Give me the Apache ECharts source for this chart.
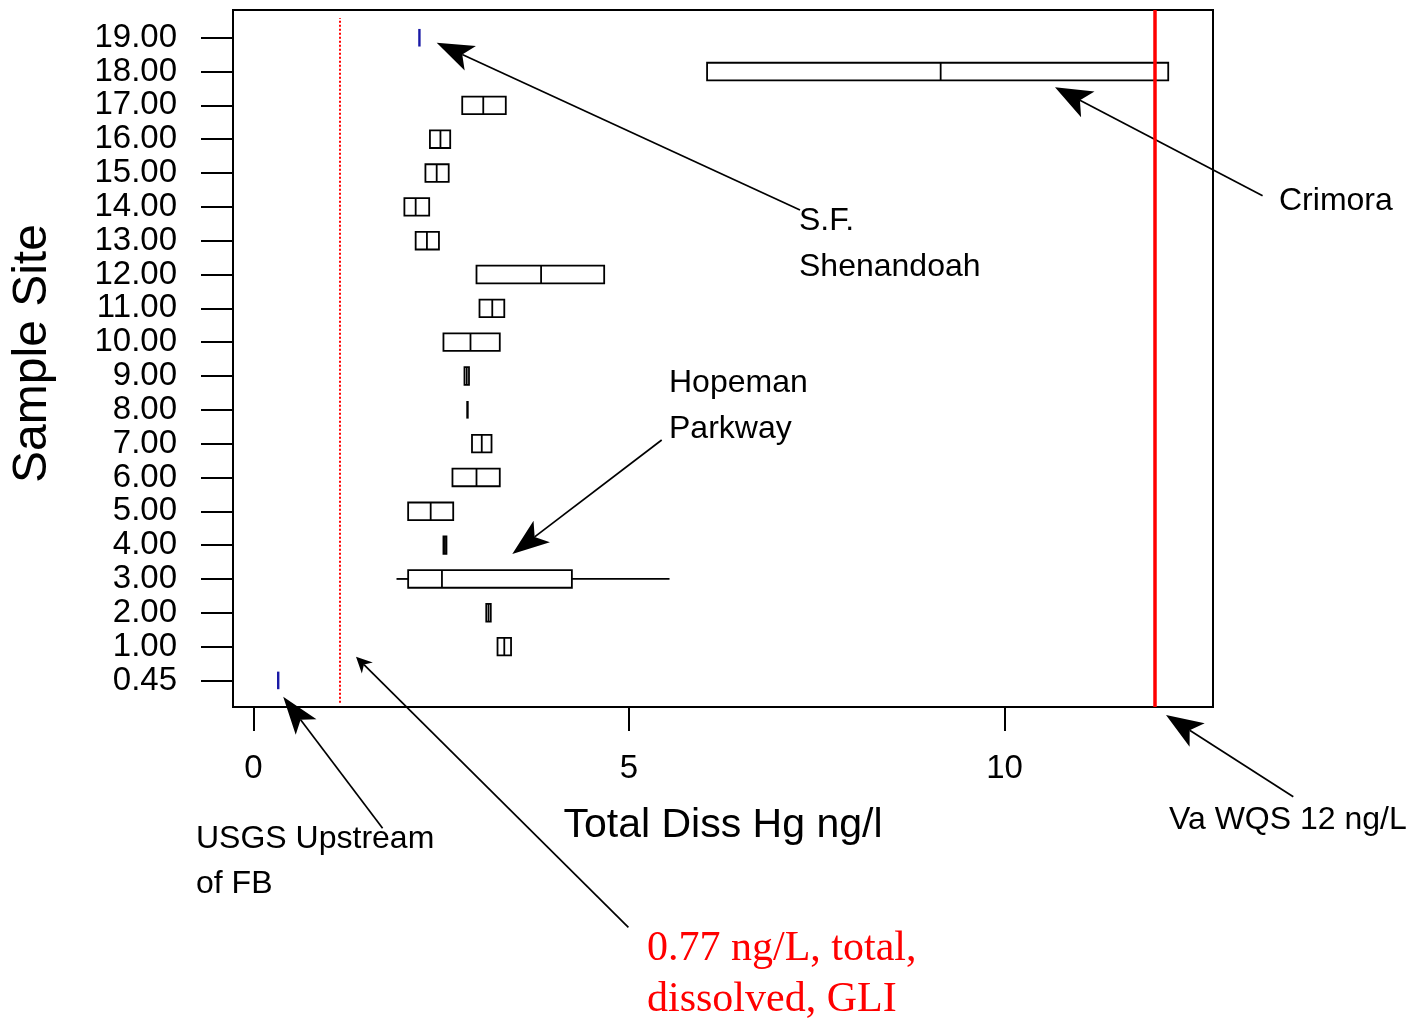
<!DOCTYPE html>
<html>
<head>
<meta charset="utf-8">
<script src="https://cdn.jsdelivr.net/npm/echarts@6/dist/echarts.min.js"></script>
<style>html,body{margin:0;padding:0;background:#fff}#c{width:1418px;height:1021px}</style>
</head>
<body>
<div id="c"></div>
<script>
// ---- data ----
const siteLabels = ['0.45','1.00','2.00','3.00','4.00','5.00','6.00','7.00','8.00','9.00','10.00','11.00','12.00','13.00','14.00','15.00','16.00','17.00','18.00','19.00'];
const minVals = [0.33, 3.25, 3.10, 1.905, 2.53, 2.06, 2.65, 2.91, 2.85, 2.81, 2.53, 3.01, 2.97, 2.16, 2.01, 2.29, 2.35, 2.78, 6.04, 2.21];
const q1Vals  = [0.33, 3.25, 3.10, 2.06,  2.53, 2.06, 2.65, 2.91, 2.85, 2.81, 2.53, 3.01, 2.97, 2.16, 2.01, 2.29, 2.35, 2.78, 6.04, 2.21];
const medVals = [0.33, 3.34, 3.13, 2.51,  2.55, 2.36, 2.97, 3.04, 2.85, 2.84, 2.89, 3.18, 3.83, 2.31, 2.16, 2.44, 2.49, 3.06, 9.15, 2.21];
const q3Vals  = [0.33, 3.43, 3.16, 4.24,  2.57, 2.66, 3.28, 3.17, 2.85, 2.87, 3.28, 3.34, 4.67, 2.47, 2.34, 2.60, 2.62, 3.36, 12.18, 2.21];
const maxVals = [0.33, 3.43, 3.16, 5.54,  2.57, 2.66, 3.28, 3.17, 2.85, 2.87, 3.28, 3.34, 4.67, 2.47, 2.34, 2.60, 2.62, 3.36, 12.18, 2.21];
const xTicks = [0, 5, 10];
const wqsLimit = 12;      // Va WQS 12 ng/L
const gliLine = 1.15;     // dotted reference line as drawn

// ---- style ----
const SANS = 'Liberation Sans, Arial, sans-serif';
const SERIF = 'Liberation Serif, Times New Roman, serif';
const blueIdx = [0, 19];

const boxData = siteLabels.map((s, i) => [i, minVals[i], q1Vals[i], medVals[i], q3Vals[i], maxVals[i]]);

function renderBox(params, api) {
  const i = api.value(0);
  const mn = api.coord([api.value(1), i]);
  const q1 = api.coord([api.value(2), i]);
  const md = api.coord([api.value(3), i]);
  const q3 = api.coord([api.value(4), i]);
  const mx = api.coord([api.value(5), i]);
  const h = api.size([0, 1])[1] * 0.26;
  const y = q1[1];
  const isBlue = blueIdx.indexOf(i) >= 0;
  const col = isBlue ? '#1a1aa6' : '#000';
  const st = { stroke: col, lineWidth: 1.8, fill: null };
  const ch = [];
  if (q3[0] - q1[0] < 0.5) {
    ch.push({ type: 'line', shape: { x1: q1[0], y1: y - h, x2: q1[0], y2: y + h }, style: { stroke: col, lineWidth: 2.4 } });
    return { type: 'group', children: ch };
  }
  if (mn[0] < q1[0] - 0.5) ch.push({ type: 'line', shape: { x1: mn[0], y1: y, x2: q1[0], y2: y }, style: st });
  if (mx[0] > q3[0] + 0.5) ch.push({ type: 'line', shape: { x1: q3[0], y1: y, x2: mx[0], y2: y }, style: st });
  ch.push({ type: 'rect', shape: { x: q1[0], y: y - h, width: q3[0] - q1[0], height: 2 * h }, style: { stroke: col, lineWidth: 1.8, fill: '#fff' } });
  ch.push({ type: 'line', shape: { x1: md[0], y1: y - h, x2: md[0], y2: y + h }, style: st });
  return { type: 'group', children: ch };
}

function arrow(from, tip, len, hw, notch) {
  const dx = from[0] - tip[0], dy = from[1] - tip[1];
  const d = Math.hypot(dx, dy), ux = dx / d, uy = dy / d, px = -uy, py = ux;
  const b = [tip[0] + ux * len, tip[1] + uy * len];
  const c1 = [b[0] + px * hw, b[1] + py * hw];
  const c2 = [b[0] - px * hw, b[1] - py * hw];
  const n = [tip[0] + ux * len * notch, tip[1] + uy * len * notch];
  return [
    { type: 'line', silent: true, shape: { x1: from[0], y1: from[1], x2: n[0], y2: n[1] }, style: { stroke: '#000', lineWidth: 1.7 } },
    { type: 'polygon', silent: true, shape: { points: [tip, c1, n, c2] }, style: { fill: '#000' } }
  ];
}
function label(text, x, y, size, font, color) {
  return { type: 'text', silent: true, style: { text: text, x: x, y: y, fontSize: size, fontFamily: font, fill: color || '#000', align: 'left', verticalAlign: 'middle' } };
}

const graphics = [].concat(
  arrow([800, 210], [436.7, 42.7], 37, 13.5, 0.76),
  arrow([1262.6, 195.7], [1055, 87.3], 37, 14.5, 0.76),
  arrow([661.7, 440], [512.3, 554], 37, 13.5, 0.76),
  arrow([382.6, 828.3], [283.2, 696.7], 38, 13, 0.76),
  arrow([628.4, 927.3], [356, 656.7], 16, 7.8, 0.7),
  arrow([1293.3, 796.7], [1166, 715], 37, 14, 0.76),
  [
    label('S.F.', 799, 221, 32, SANS),
    label('Shenandoah', 799, 267, 32, SANS),
    label('Crimora', 1279, 201, 32, SANS),
    label('Hopeman', 669, 383, 32, SANS),
    label('Parkway', 669, 429, 32, SANS),
    label('USGS Upstream', 196, 839, 32, SANS),
    label('of FB', 196, 884, 32, SANS),
    label('Va WQS 12 ng/L', 1169, 820, 32, SANS),
    label('0.77 ng/L, total,', 647, 949, 42, SERIF, '#ff0000'),
    label('dissolved, GLI', 647, 1000, 42, SERIF, '#ff0000')
  ]
);

const chart = echarts.init(document.getElementById('c'), null, { renderer: 'canvas' });
chart.setOption({
  animation: false,
  backgroundColor: '#fff',
  grid: { left: 233, top: 10, width: 980, height: 697, show: true, borderColor: '#000', borderWidth: 2, backgroundColor: 'transparent' },
  xAxis: {
    type: 'value', min: -0.272, max: 12.776,
    name: 'Total Diss Hg ng/l', nameLocation: 'middle', nameGap: 98,
    nameTextStyle: { fontSize: 41, fontFamily: SANS, color: '#000' },
    axisLine: { show: false, onZero: false },
    splitLine: { show: false },
    axisTick: { show: true, inside: false, length: 24, lineStyle: { color: '#000', width: 2 }, customValues: xTicks },
    axisLabel: { show: true, margin: 45, fontSize: 33, fontFamily: SANS, color: '#000', customValues: xTicks, formatter: v => String(v) }
  },
  yAxis: {
    type: 'value', min: -0.786, max: 19.82,
    name: 'Sample Site', nameLocation: 'middle', nameGap: 176,
    nameTextStyle: { fontSize: 48, fontFamily: SANS, color: '#000', padding: [0, 0, 0, 10] },
    axisLine: { show: false, onZero: false },
    splitLine: { show: false },
    axisTick: { show: true, inside: false, length: 32, lineStyle: { color: '#000', width: 2 }, customValues: siteLabels.map((s, i) => i) },
    axisLabel: { show: true, margin: 56, fontSize: 33, fontFamily: SANS, color: '#000', customValues: siteLabels.map((s, i) => i), formatter: v => siteLabels[Math.round(v)] }
  },
  series: [
    {
      type: 'custom', name: 'Total Diss Hg', renderItem: renderBox, data: boxData,
      encode: { x: [1, 2, 3, 4, 5], y: 0 }, clip: false, z: 3,
      markLine: {
        silent: true, symbol: ['none', 'none'], label: { show: false }, animation: false,
        data: [
          { xAxis: wqsLimit, lineStyle: { color: '#ff0000', width: 3.5, type: 'solid' } },
          [{ coord: [gliLine, -0.66], lineStyle: { color: '#ff0000', width: 2, type: [2, 2] } }, { coord: [gliLine, 19.58] }]
        ]
      }
    }
  ],
  graphic: graphics
});
</script>
</body>
</html>
